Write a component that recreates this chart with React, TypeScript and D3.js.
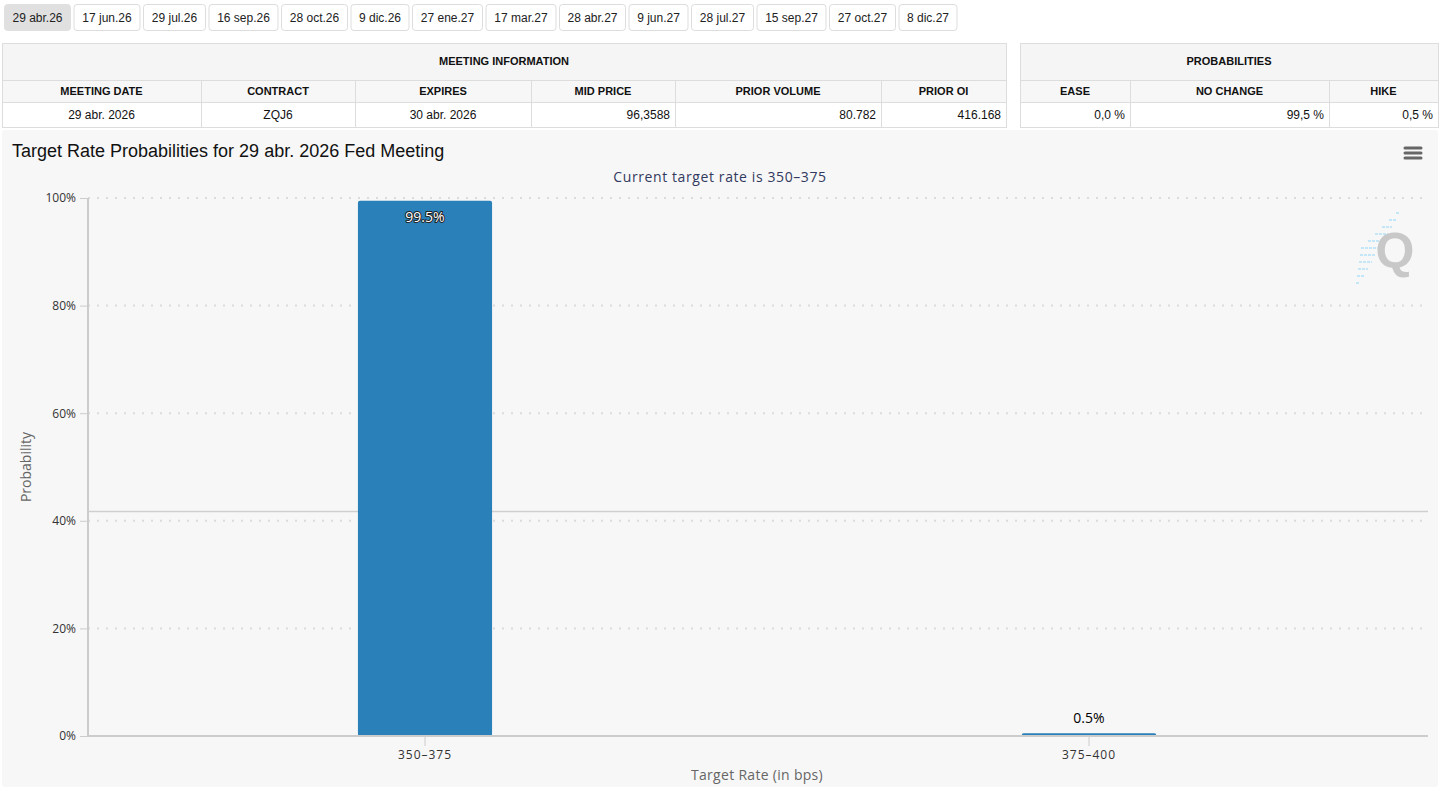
import { useEffect, useRef } from 'react';
import * as d3 from 'd3';

const meetingButtons = ['29 abr.26', '17 jun.26', '29 jul.26', '16 sep.26', '28 oct.26', '9 dic.26', '27 ene.27', '17 mar.27', '28 abr.27', '9 jun.27', '28 jul.27', '15 sep.27', '27 oct.27', '8 dic.27'];
const infoHeaders = ['MEETING DATE', 'CONTRACT', 'EXPIRES', 'MID PRICE', 'PRIOR VOLUME', 'PRIOR OI'];
const infoValues = ['29 abr. 2026', 'ZQJ6', '30 abr. 2026', '96,3588', '80.782', '416.168'];
const infoAlign = ['middle', 'middle', 'middle', 'end', 'end', 'end'];
const infoWidths = [199, 154, 176, 144, 206, 125];
const probHeaders = ['EASE', 'NO CHANGE', 'HIKE'];
const probValues = ['0,0 %', '99,5 %', '0,5 %'];
const probWidths = [110, 199, 109];

const categories = ['350–375', '375–400'];
const values = [99.5, 0.5];
const yTicks = [0, 20, 40, 60, 80, 100];
const plotLineValue = 41.8;

const W = 1441;
const H = 787;

export default function App() {
  const ref = useRef<SVGSVGElement>(null);

  useEffect(() => {
    if (!ref.current) return;
    const svg = d3.select(ref.current);
    svg.selectAll('*').remove();
    svg.attr('width', W).attr('height', H);
    svg.append('rect').attr('width', W).attr('height', H).attr('fill', '#fff');

    // Meeting buttons
    const btnG = svg.append('g').attr('font-family', 'Arial, "Liberation Sans", sans-serif').attr('font-size', 12);
    let bx = 4;
    meetingButtons.forEach((label, i) => {
      const rect = btnG.append('rect');
      const txt = btnG.append('text').attr('y', 21.5).attr('text-anchor', 'middle').attr('fill', '#222').text(label);
      const tw = (txt.node() as SVGTextElement).getComputedTextLength();
      const w = Math.round(tw + 16.2);
      rect.attr('x', bx + 0.5).attr('y', 4.5).attr('width', w).attr('height', 26).attr('rx', 3)
        .attr('fill', i === 0 ? '#e0e0e0' : '#fff')
        .attr('stroke', i === 0 ? '#e0e0e0' : '#ddd');
      txt.attr('x', bx + 0.5 + w / 2);
      bx += w + 3.5;
    });

    // Tables
    const drawTable = (x0: number, title: string, headers: string[], vals: string[], widths: number[], aligns: string[]) => {
      const g = svg.append('g').attr('font-family', 'Arial, "Liberation Sans", sans-serif');
      const total = d3.sum(widths);
      g.append('rect').attr('x', x0 + 0.5).attr('y', 43.5).attr('width', total).attr('height', 37).attr('fill', '#f5f5f5').attr('stroke', '#ddd');
      g.append('rect').attr('x', x0 + 0.5).attr('y', 80.5).attr('width', total).attr('height', 22).attr('fill', '#f7f7f7').attr('stroke', '#ddd');
      g.append('rect').attr('x', x0 + 0.5).attr('y', 102.5).attr('width', total).attr('height', 25).attr('fill', '#fff').attr('stroke', '#ddd');
      g.append('text').attr('x', x0 + total / 2).attr('y', 65).attr('text-anchor', 'middle')
        .attr('font-size', 11).attr('font-weight', 'bold').attr('fill', '#111').text(title);
      let cx = x0;
      headers.forEach((h, i) => {
        const w = widths[i];
        if (i > 0) g.append('line').attr('x1', cx + 0.5).attr('x2', cx + 0.5).attr('y1', 80.5).attr('y2', 127.5).attr('stroke', '#ddd');
        g.append('text').attr('x', cx + w / 2).attr('y', 95).attr('text-anchor', 'middle')
          .attr('font-size', 11).attr('font-weight', 'bold').attr('fill', '#111').text(h);
        const a = aligns[i];
        g.append('text').attr('x', a === 'end' ? cx + w - 5 : cx + w / 2).attr('y', 119).attr('text-anchor', a)
          .attr('font-size', 12).attr('fill', '#111').text(vals[i]);
        cx += w;
      });
    };
    drawTable(2, 'MEETING INFORMATION', infoHeaders, infoValues, infoWidths, infoAlign);
    drawTable(1020, 'PROBABILITIES', probHeaders, probValues, probWidths, ['end', 'end', 'end']);

    // Chart panel
    const panel = svg.append('g');
    panel.append('rect').attr('x', 2).attr('y', 130).attr('width', 1436).attr('height', 657).attr('rx', 3).attr('fill', '#f7f7f7');

    const margin = { left: 88, right: 1428, top: 198, bottom: 736 };
    const x = d3.scaleBand().domain(categories).range([93, 1421]).padding(0);
    const y = d3.scaleLinear().domain([0, 100]).range([margin.bottom, margin.top]);
    const barW = x.bandwidth() * 0.202;
    const font = '"Open Sans", "Noto Sans", sans-serif';

    panel.append('text').attr('x', 12).attr('y', 157).attr('font-family', 'Arial, "Liberation Sans", sans-serif')
      .attr('font-size', 18).attr('fill', '#111').text('Target Rate Probabilities for 29 abr. 2026 Fed Meeting');
    panel.append('text').attr('x', 720).attr('y', 182).attr('text-anchor', 'middle').attr('font-family', font)
      .attr('font-size', 14).attr('letter-spacing', 0.6).attr('fill', '#333a60').text('Current target rate is 350–375');

    // hamburger
    [148, 153, 158].forEach(yy => {
      panel.append('line').attr('x1', 1405).attr('x2', 1421).attr('y1', yy).attr('y2', yy)
        .attr('stroke', '#666').attr('stroke-width', 3).attr('stroke-linecap', 'round');
    });

    // watermark
    const wm = panel.append('g');
    d3.range(11).forEach(i => {
      const yy = 213 + i * 7;
      const xr = 1400 - i * 4;
      const len = 4 + (5 - Math.abs(i - 5)) * 3;
      wm.append('line').attr('x1', xr - len).attr('x2', xr).attr('y1', yy).attr('y2', yy)
        .attr('stroke', '#c4e6f7').attr('stroke-width', 2).attr('stroke-dasharray', '3,1');
    });
    wm.append('text').attr('x', 1395).attr('y', 268).attr('text-anchor', 'middle').attr('font-family', 'Arial, "Liberation Sans", sans-serif')
      .attr('font-weight', 'bold').attr('font-size', 50).attr('fill', '#c8c8c8').text('Q');

    // grid
    const gridG = panel.append('g');
    yTicks.forEach(t => {
      gridG.append('line').attr('x1', margin.left).attr('x2', margin.right).attr('y1', y(t)).attr('y2', y(t))
        .attr('stroke', '#dcdcdc').attr('stroke-width', 2).attr('stroke-dasharray', '2,7');
    });
    gridG.append('line').attr('x1', margin.left).attr('x2', margin.right).attr('y1', Math.round(y(plotLineValue)) + 0.5).attr('y2', Math.round(y(plotLineValue)) + 0.5)
      .attr('stroke', '#cfcfcf').attr('stroke-width', 1.5);

    // y axis
    const yAxis = panel.append('g').attr('transform', `translate(${margin.left},0)`)
      .call(d3.axisLeft(y).tickValues(yTicks).tickSize(8).tickFormat(d => `${d}%`));
    yAxis.select('.domain').attr('stroke', '#ccc').attr('stroke-width', 2).attr('d', `M0,${margin.top}V${margin.bottom}`);
    yAxis.selectAll('line').attr('stroke', '#ccc');
    yAxis.selectAll('text').attr('font-family', font).attr('font-size', 12).attr('fill', '#333').attr('dx', '-1');

    // bars
    panel.selectAll('.bar').data(values).enter().append('rect')
      .attr('x', (_, i) => (x(categories[i]) || 0) + x.bandwidth() / 2 - barW / 2)
      .attr('y', d => y(d))
      .attr('width', barW)
      .attr('height', d => y(0) - y(d))
      .attr('rx', 2)
      .attr('fill', '#2a80b9');

    // x axis
    const xAxis = panel.append('g').attr('transform', `translate(0,${margin.bottom})`)
      .call(d3.axisBottom(x).tickSize(10).tickPadding(4));
    xAxis.select('.domain').attr('stroke', '#ccc').attr('stroke-width', 2).attr('d', `M${margin.left},0H${margin.right}`);
    xAxis.selectAll('line').attr('stroke', '#ccc');
    xAxis.selectAll('text').attr('font-family', font).attr('font-size', 12).attr('fill', '#333').attr('letter-spacing', 1);

    // labels
    values.forEach((v, i) => {
      const cx = (x(categories[i]) || 0) + x.bandwidth() / 2;
      const inside = y(0) - y(v) > 40;
      const t = panel.append('text').attr('x', cx).attr('text-anchor', 'middle').attr('font-family', font)
        .attr('font-size', 14).text(`${v}%`);
      if (inside) {
        t.attr('y', y(v) + 21).attr('fill', '#fff').attr('stroke', '#222').attr('stroke-width', 2)
          .attr('paint-order', 'stroke').attr('stroke-linejoin', 'round');
      } else {
        t.attr('y', y(v) - 10).attr('fill', '#000');
      }
    });

    // axis titles
    panel.append('text').attr('transform', `translate(31,${(margin.top + margin.bottom) / 2}) rotate(-90)`)
      .attr('text-anchor', 'middle').attr('font-family', font).attr('font-size', 14).attr('fill', '#666').text('Probability');
    panel.append('text').attr('x', 757).attr('y', 780).attr('text-anchor', 'middle').attr('font-family', font)
      .attr('font-size', 14).attr('letter-spacing', 0.3).attr('fill', '#666').text('Target Rate (in bps)');
  }, []);

  return <svg ref={ref} style={{ position: 'absolute', left: 0, top: 0, display: 'block' }} />;
}
